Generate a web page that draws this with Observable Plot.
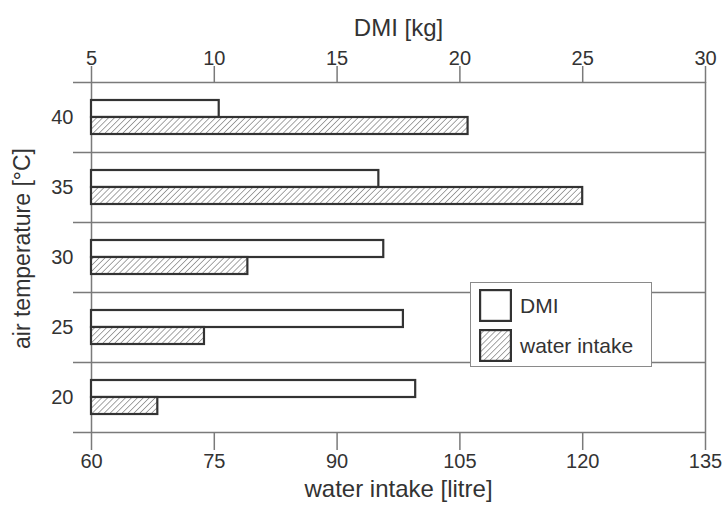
<!DOCTYPE html>
<html>
<head>
<meta charset="utf-8">
<script src="https://cdn.jsdelivr.net/npm/d3@7"></script>
<script src="https://cdn.jsdelivr.net/npm/@observablehq/plot@0.6"></script>
<style>
  html, body { margin: 0; padding: 0; background: #ffffff; }
  #wrap { position: relative; width: 723px; height: 512px; font-family: "Liberation Sans", Arial, sans-serif; color: #333; }
  #legend { position: absolute; left: 470px; top: 282px; width: 182px; height: 85px; box-sizing: border-box;
            border: 1.5px solid #8a8a8a; background: #ffffff; }
  .item { position: absolute; left: 8px; display: flex; align-items: center; }
  .item svg { display: block; }
  .item span { margin-left: 8px; font-size: 21px; color: #333; }
</style>
</head>
<body>
<div id="wrap"></div>
<script>
// ---- data ----
const temps = [20, 25, 30, 35, 40];                 // air temperature [°C]
const dmi = [18.2, 17.7, 16.9, 16.7, 10.2];         // DMI [kg]
const water = [68.1, 73.8, 79.1, 120.0, 106.0];     // water intake [litre]
const dmiTicks = [5, 10, 15, 20, 25, 30];
const waterTicks = [60, 75, 90, 105, 120, 135];
const seriesNames = ["DMI", "water intake"];

// map DMI onto the water-intake scale (top axis shares the x scale)
const toWater = d3.scaleLinear().domain(d3.extent(dmiTicks)).range(d3.extent(waterTicks));

const W = 723, H = 512;
const mL = 91, mR = 18, mT = 82, mB = 80;
const step = temps[1] - temps[0];
const yDomain = [temps[0] - step / 2, temps[temps.length - 1] + step / 2];
const pxPerUnit = (H - mT - mB) / (yDomain[1] - yDomain[0]);
const bh = 17 / pxPerUnit; // bar thickness in data units

const rows = temps.map((t, i) => ({t, dmiW: toWater(dmi[i]), water: water[i]}));
const boundaries = d3.range(temps.length + 1).map(i => yDomain[0] + i * step);
const x0 = waterTicks[0];

const fontFam = "Liberation Sans, Arial, sans-serif";

const chart = Plot.plot({
  width: W, height: H,
  marginLeft: mL, marginRight: mR, marginTop: mT, marginBottom: mB,
  style: {fontFamily: fontFam, fontSize: "20px", color: "#333", background: "transparent"},
  x: {domain: d3.extent(waterTicks), axis: null},
  y: {domain: yDomain, axis: null},
  marks: [
    Plot.ruleY(boundaries, {stroke: "#7a7a7a", strokeWidth: 1.5, insetLeft: -18}),
    Plot.ruleX(d3.extent(waterTicks), {stroke: "#7a7a7a", strokeWidth: 1.5}),
    Plot.axisX({anchor: "bottom", ticks: waterTicks, tickSize: 18, tickPadding: 3, stroke: "#7a7a7a", strokeWidth: 1.5, fill: "#333", fontSize: 20, label: null}),
    Plot.axisX({anchor: "top", ticks: waterTicks, tickFormat: v => d3.format("d")(Math.round(toWater.invert(v))), tickSize: 17, tickPadding: 1, stroke: "#7a7a7a", strokeWidth: 1.5, fill: "#333", fontSize: 20, label: null}),
    Plot.axisY({ticks: temps, tickSize: 0, tickPadding: 18, fill: "#333", fontSize: 20, label: null}),
    Plot.rect(rows, {x1: () => x0, x2: "dmiW", y1: d => d.t, y2: d => d.t + bh, fill: "white", stroke: "#333", strokeWidth: 2.2}),
    Plot.rect(rows, {x1: () => x0, x2: "water", y1: d => d.t - bh, y2: d => d.t, fill: "url(#hatch)", stroke: "#333", strokeWidth: 2.2}),
    Plot.text(["DMI [kg]"], {frameAnchor: "top", dy: -64, fontSize: 24, fill: "#333"}),
    Plot.text(["water intake [litre]"], {frameAnchor: "bottom", dy: 64, fontSize: 24, fill: "#333"}),
    Plot.text(["air temperature [°C]"], {frameAnchor: "left", textAnchor: "middle", dx: -69, dy: -9, rotate: -90, fontSize: 23, fill: "#333"})
  ]
});

// hatch pattern
const defs = d3.select(chart).insert("defs", ":first-child");
const pat = defs.append("pattern").attr("id", "hatch").attr("patternUnits", "userSpaceOnUse")
  .attr("width", 4.2).attr("height", 4.2).attr("patternTransform", "rotate(45)");
pat.append("rect").attr("width", 4.2).attr("height", 4.2).attr("fill", "white");
pat.append("line").attr("x1", 0).attr("y1", 0).attr("x2", 0).attr("y2", 4.2)
  .attr("stroke", "#808080").attr("stroke-width", 1.4);

const wrap = document.getElementById("wrap");
wrap.appendChild(chart);

// legend
const legend = document.createElement("div");
legend.id = "legend";
const fills = ["white", "url(#hatch)"];
seriesNames.forEach((name, i) => {
  const item = document.createElement("div");
  item.className = "item";
  item.style.top = (6 + i * 40) + "px";
  item.innerHTML = `<svg width="33" height="33"><rect x="1.1" y="1.1" width="30.8" height="30.8" fill="${fills[i]}" stroke="#333" stroke-width="2.2"/></svg><span>${name}</span>`;
  legend.appendChild(item);
});
wrap.appendChild(legend);
</script>
</body>
</html>
